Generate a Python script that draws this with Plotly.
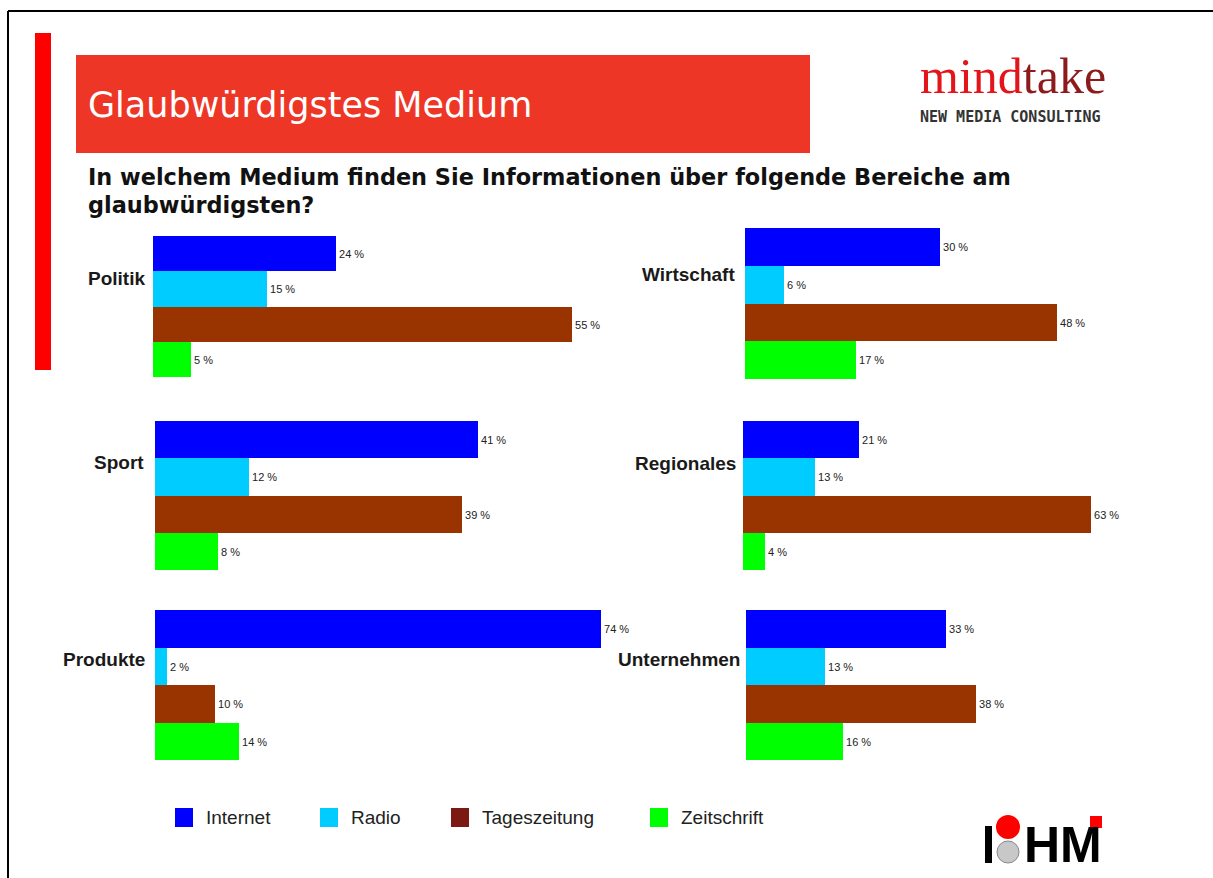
import plotly.graph_objects as go

# ---------------- data ----------------
categories = ["Politik", "Wirtschaft", "Sport", "Regionales", "Produkte", "Unternehmen"]
media = ["Internet", "Radio", "Tageszeitung", "Zeitschrift"]
internet = [24, 30, 41, 21, 74, 33]
radio = [15, 6, 12, 13, 2, 13]
tageszeitung = [55, 48, 39, 63, 10, 38]
zeitschrift = [5, 17, 8, 4, 14, 16]

title_text = "Glaubwürdigstes Medium"
subtitle_lines = ["In welchem Medium finden Sie Informationen über folgende Bereiche am",
                  "glaubwürdigsten?"]

# ---------------- styling / layout ----------------
W, H = 1213, 878
bar_colors = ["#0000FF", "#00CCFF", "#993300", "#00FF00"]
legend_colors = ["#0000FF", "#00CCFF", "#7B1A12", "#00FF00"]


def px(x):
    return x / W


def py(y):
    return 1 - y / H


# panel geometry in pixels: (x start, px per %, x end, y top, y bottom, label right x, label y)
panel_geo = [
    (153, 7.62, 640, 236, 377, 147, 278),
    (745, 6.50, 1150, 228, 379, 737, 275),
    (155, 7.87, 640, 421, 570, 146, 462),
    (743, 5.53, 1150, 421, 570, 738, 463),
    (155, 6.03, 640, 610, 760, 147, 659),
    (746, 6.06, 1150, 610, 760, 742, 659),
]

fig = go.Figure()
layout_axes = {}
annotations = []

for i, cat in enumerate(categories):
    x0, scale, x1, yt, yb, lx, ly = panel_geo[i]
    n = i + 1
    xa = "x" if n == 1 else f"x{n}"
    ya = "y" if n == 1 else f"y{n}"
    vals = [internet[i], radio[i], tageszeitung[i], zeitschrift[i]]
    fig.add_trace(go.Bar(
        x=vals, y=media, orientation="h",
        marker=dict(color=bar_colors, line=dict(width=0)),
        text=[f"{v} %" for v in vals], textposition="outside",
        textfont=dict(family="Liberation Sans, Arial", size=11, color="#222222"),
        cliponaxis=False, showlegend=False, hoverinfo="skip",
        xaxis=xa, yaxis=ya,
    ))
    xk = "xaxis" if n == 1 else f"xaxis{n}"
    yk = "yaxis" if n == 1 else f"yaxis{n}"
    layout_axes[xk] = dict(domain=[px(x0), px(x1)], range=[0, (x1 - x0) / scale],
                           visible=False, fixedrange=True, anchor=ya)
    layout_axes[yk] = dict(domain=[py(yb), py(yt)], range=[3.5, -0.5],
                           visible=False, fixedrange=True, anchor=xa)
    annotations.append(dict(
        x=px(lx), y=py(ly), xref="paper", yref="paper", xanchor="right", yanchor="middle",
        text=f"<b>{cat}</b>", showarrow=False,
        font=dict(family="Liberation Sans, Arial", size=19, color="#1a1a1a")))

shapes = []
# outer frame lines
shapes.append(dict(type="line", xref="paper", yref="paper", x0=px(8), x1=1, y0=py(11), y1=py(11),
                   line=dict(color="black", width=2)))
shapes.append(dict(type="line", xref="paper", yref="paper", x0=px(8), x1=px(8), y0=py(11), y1=0,
                   line=dict(color="black", width=2)))
# red vertical bar
shapes.append(dict(type="rect", xref="paper", yref="paper", x0=px(35), x1=px(51), y0=py(370), y1=py(33),
                   fillcolor="#FF0000", line=dict(width=0)))
# title banner
shapes.append(dict(type="rect", xref="paper", yref="paper", x0=px(76), x1=px(810), y0=py(153), y1=py(55),
                   fillcolor="#EE3626", line=dict(width=0)))

annotations.append(dict(x=px(86), y=py(105), xref="paper", yref="paper", xanchor="left", yanchor="middle",
                        text=title_text, showarrow=False,
                        font=dict(family="DejaVu Sans", size=35, color="white")))
for j, line in enumerate(subtitle_lines):
    annotations.append(dict(x=px(86), y=py(177 + 28 * j), xref="paper", yref="paper",
                            xanchor="left", yanchor="middle",
                            text=f"<b>{line}</b>", showarrow=False,
                            font=dict(family="DejaVu Sans", size=22.4, color="#111111")))

# custom legend
legend_sq_x = [175, 320, 451, 650]
for m, c, sx in zip(media, legend_colors, legend_sq_x):
    shapes.append(dict(type="rect", xref="paper", yref="paper", x0=px(sx), x1=px(sx + 18),
                       y0=py(827), y1=py(808), fillcolor=c, line=dict(width=0)))
    annotations.append(dict(x=px(sx + 29), y=py(817), xref="paper", yref="paper",
                            xanchor="left", yanchor="middle", text=m, showarrow=False,
                            font=dict(family="Liberation Sans, Arial", size=19, color="#222222")))

# mindtake logo
annotations.append(dict(x=px(918), y=py(76), xref="paper", yref="paper", xanchor="left", yanchor="middle",
                        text="<span style='color:#E3151B'>mind</span><span style='color:#8E1B1B'>take</span>",
                        showarrow=False, font=dict(family="Liberation Serif", size=50)))
annotations.append(dict(x=px(1010), y=py(117), xref="paper", yref="paper", xanchor="center", yanchor="middle",
                        text="<b>NEW MEDIA CONSULTING</b>", showarrow=False,
                        font=dict(family="DejaVu Sans Mono", size=15, color="#333333")))

# IHM logo
shapes.append(dict(type="rect", xref="paper", yref="paper", x0=px(985), x1=px(992), y0=py(863), y1=py(826),
                   fillcolor="black", line=dict(width=0)))
shapes.append(dict(type="circle", xref="paper", yref="paper", x0=px(996), x1=px(1020), y0=py(839), y1=py(815),
                   fillcolor="#FF0000", line=dict(width=0)))
shapes.append(dict(type="circle", xref="paper", yref="paper", x0=px(997), x1=px(1019), y0=py(863), y1=py(841),
                   fillcolor="#C8C8C8", line=dict(color="#888888", width=1)))
shapes.append(dict(type="rect", xref="paper", yref="paper", x0=px(1090), x1=px(1102), y0=py(828), y1=py(816),
                   fillcolor="#FF0000", line=dict(width=0)))
annotations.append(dict(x=px(1022), y=py(845), xref="paper", yref="paper", xanchor="left", yanchor="middle",
                        text="<b>HM</b>", showarrow=False,
                        font=dict(family="Liberation Sans", size=50, color="black")))

fig.update_layout(
    width=W, height=H, margin=dict(l=0, r=0, t=0, b=0),
    paper_bgcolor="white", plot_bgcolor="rgba(0,0,0,0)",
    bargap=0, showlegend=False,
    shapes=shapes, annotations=annotations,
    **layout_axes,
)

fig.write_html("out.html", config={"displayModeBar": False},
               post_script="document.body.style.margin='0';")
